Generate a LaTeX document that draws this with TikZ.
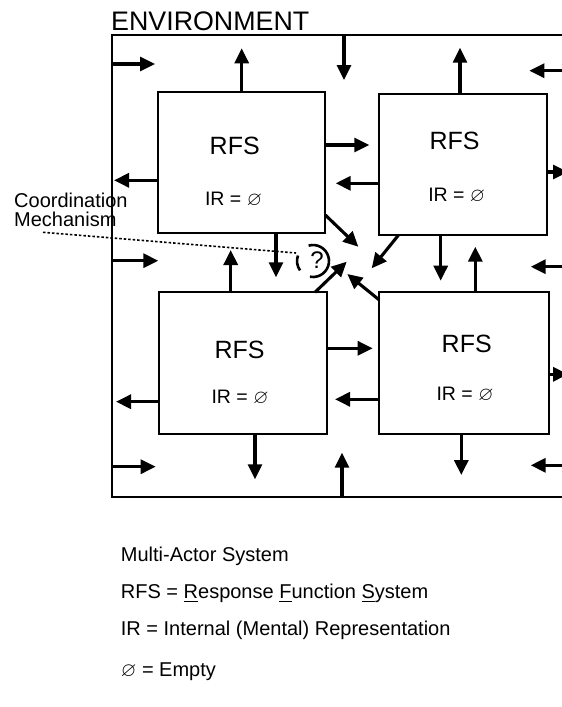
\documentclass[tikz,border=0pt]{standalone}
\usepackage{fontspec}
\setmainfont{Liberation Sans}
\usepackage{amssymb}
\usetikzlibrary{arrows.meta}
\begin{document}
\begin{tikzpicture}[x=1pt,y=-1pt,
  arr/.style={line width=3.1pt,-{Triangle[length=15pt,width=14pt]}},
  box/.style={draw,line width=2.3pt,inner sep=0pt},
  rfs/.style={font=\fontsize{25}{30}\selectfont,inner sep=0pt,anchor=base},
  ir/.style={font=\fontsize{19.5}{23}\selectfont,inner sep=0pt,anchor=base},
  lbl/.style={font=\fontsize{20}{24}\selectfont,inner sep=0pt,anchor=base west},
  frame/.style={line width=2.3pt},
  dotline/.style={line width=1.6pt,dash pattern=on 2.5pt off 2pt},
  qarc/.style={line width=2.6pt}
]
\clip (0,0) rectangle (562,707);
\fill[white] (0,0) rectangle (562,707);

% environment frame
\node[font=\fontsize{26.8}{32}\selectfont,inner sep=0pt,anchor=base west] (env) at (111,30) {ENVIRONMENT};
\coordinate (eTL) at (112,35);
\coordinate (eBL) at (112,497);
\coordinate (eTR) at (620,35);
\coordinate (eBR) at (620,497);
\draw[frame] (eTR) -- (eTL) -- (eBL) -- (eBR);

% boxes
\node[box,minimum width=167.3pt,minimum height=140.4pt] (b1) at (241.65,162.5) {};
\node[box,minimum width=168.3pt,minimum height=141pt] (b2) at (463.15,164.8) {};
\node[box,minimum width=168.3pt,minimum height=141.7pt] (b3) at (243.15,363.15) {};
\node[box,minimum width=169.4pt,minimum height=141.7pt] (b4) at (464,363.15) {};

\node[rfs] (r1) at (234.7,154) {RFS};
\node[ir]  (i1) at (233.5,205.7) {IR = $\varnothing$};
\node[rfs] (r2) at (454.5,149) {RFS};
\node[ir]  (i2) at (456.7,201.7) {IR = $\varnothing$};
\node[rfs] (r3) at (239.5,358.3) {RFS};
\node[ir]  (i3) at (240,403.3) {IR = $\varnothing$};
\node[rfs] (r4) at (466.7,352.3) {RFS};
\node[ir]  (i4) at (465,400.7) {IR = $\varnothing$};

% tips / ends
\coordinate (s1) at (112,64);      \coordinate (t1) at (155,64);
\coordinate (t2) at (241.7,48.3);
\coordinate (s3) at (344,35);      \coordinate (t3) at (344,80);
\coordinate (t4) at (460,47.7);
\coordinate (s5) at (575,70.7);    \coordinate (t5) at (529.3,70.7);
\coordinate (t6) at (369.3,145);
\coordinate (t7) at (335.7,183.3);
\coordinate (t8) at (568,172);
\coordinate (t9) at (114,180.3);
\coordinate (t10) at (276,277.3);
\coordinate (s11) at (112,260.7);  \coordinate (t11) at (158.3,260.7);
\coordinate (t12) at (230.7,250);
\coordinate (t13) at (440.7,280.7);
\coordinate (t14) at (475.3,246.7);
\coordinate (s15) at (575,266.7);  \coordinate (t15) at (530.7,266.7);
\coordinate (t17) at (372.7,348.3);
\coordinate (t18) at (335,399.3);
\coordinate (t19) at (116,401.7);
\coordinate (t20) at (568,374.3);
\coordinate (t21) at (255,479.3);
\coordinate (t22) at (461.3,475);
\coordinate (s23) at (112,466.7);  \coordinate (t23) at (155.7,466.7);
\coordinate (s24) at (342,497);    \coordinate (t24) at (342,452.7);
\coordinate (s25) at (575,465.3);  \coordinate (t25) at (530.7,465.3);

\draw[arr] (s1) -- (t1);
\draw[arr] (b1.north -| t2) -- (t2);
\draw[arr] (s3) -- (t3);
\draw[arr] (b2.north -| t4) -- (t4);
\draw[arr] (s5) -- (t5);
\draw[arr] (b1.east |- t6) -- (t6);
\draw[arr] (b2.west |- t7) -- (t7);
\draw[arr] (b2.east |- t8) -- (t8);
\draw[arr] (b1.west |- t9) -- (t9);
\draw[arr] (b1.south -| t10) -- (t10);
\draw[arr] (s11) -- (t11);
\draw[arr] (b3.north -| t12) -- (t12);
\draw[arr] (b2.south -| t13) -- (t13);
\draw[arr] (b4.north -| t14) -- (t14);
\draw[arr] (s15) -- (t15);
\draw[arr] (b3.east |- t17) -- (t17);
\draw[arr] (b4.west |- t18) -- (t18);
\draw[arr] (b3.west |- t19) -- (t19);
\draw[arr] (b4.east |- t20) -- (t20);
\draw[arr] (b3.south -| t21) -- (t21);
\draw[arr] (b4.south -| t22) -- (t22);
\draw[arr] (s23) -- (t23);
\draw[arr] (s24) -- (t24);
\draw[arr] (s25) -- (t25);

% diagonal arrows to coordination mechanism
\coordinate (d1s) at (325.3,215);  \coordinate (d1t) at (358.3,246.7);
\coordinate (d2s) at (398.3,235.3);\coordinate (d2t) at (371.7,268.3);
\coordinate (d3s) at (315,292.3);  \coordinate (d3t) at (346.7,261.7);
\coordinate (d4s) at (379.3,300);  \coordinate (d4t) at (347.3,274);
\draw[arr] (d1s) -- (d1t);
\draw[arr] (d2s) -- (d2t);
\draw[arr] (d3s) -- (d3t);
\draw[arr] (d4s) -- (d4t);

% coordination mechanism symbol
\node[font=\fontsize{24}{28}\selectfont,inner sep=0pt,anchor=base] (q) at (317,268.5) {?};
\coordinate (qc) at (313,261);
\draw[qarc] (qc) ++(106:16pt) arc[start angle=106,end angle=-101,radius=16pt];
\draw[qarc] (qc) ++(160:16pt) arc[start angle=160,end angle=216,radius=16pt];

% label
\node[lbl] (co) at (14,207.3) {Coordination};
\node[lbl] (me) at (14,226.7) {Mechanism};
\coordinate (ds) at (43,232.3);
\coordinate (dt) at (296,253);
\draw[dotline] (ds) -- (dt);

% legend
\node[lbl] (l1) at (120.7,561.7) {Multi-Actor System};
\node[lbl] (l2) at (120.7,598.3) {RFS = \underline{R}esponse \underline{F}unction \underline{S}ystem};
\node[lbl] (l3) at (120.7,635) {IR = Internal (Mental) Representation};
\node[lbl] (l4) at (120.7,676.7) {$\varnothing$ = Empty};
\end{tikzpicture}
\end{document}
